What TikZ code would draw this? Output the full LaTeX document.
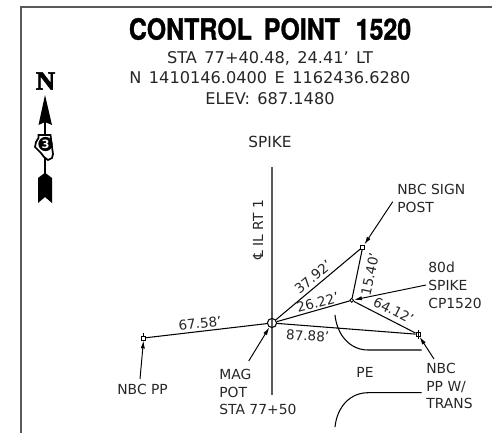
\documentclass[tikz,border=0pt]{standalone}
\usepackage{fontspec}
\setmainfont{DejaVu Sans}
\newfontfamily\titlefont[BoldFeatures={FakeBold=1.2}]{TeX Gyre Heros}
\newfontfamily\northfont[BoldFeatures={FakeBold=2.5}]{Liberation Serif}
\newcommand{\widewords}{\spaceskip=.46em\relax}
\usetikzlibrary{positioning,arrows.meta}
\tikzset{
  headtext/.style={font=\fontsize{9.2}{11}\selectfont,text=black!85},
  smalltext/.style={font=\fontsize{7.9}{10}\selectfont,text=black!85,align=left,inner sep=0pt},
  dimtext/.style={font=\fontsize{7.7}{9}\selectfont,text=black!85,inner sep=0pt},
  peg/.style={draw,shape=rectangle,minimum size=2.3pt,inner sep=0pt,line width=.5pt},
  leader/.style={line width=.55pt,-{Latex[length=4.5pt,width=2.4pt]}},
  tie/.style={line width=.6pt},
  frameline/.style={draw=black!65,line width=.9pt},
}
\begin{document}
\begin{tikzpicture}[x=0.02cm,y=-0.02cm]
\useasboundingbox (0,0) rectangle (492,433);
\draw[frameline] (21,433) -- (21,7) -- (492,7);

\node[font=\titlefont\bfseries\fontsize{16.6}{18}\selectfont,xscale=.855,transform shape] (Title) at (270,29) {CONTROL\hspace{.2em} POINT\hspace{.35em} 1520};
\node[headtext] (Sta) at (270,58) {\widewords STA 77+40.48, 24.41' LT};
\node[headtext] (Coord) at (270,78) {\widewords N 1410146.0400 E 1162436.6280};
\node[headtext] (Elev) at (270,99) {\widewords ELEV: 687.1480};
\node[headtext,font=\fontsize{8.7}{11}\selectfont] (Spike) at (270,142) {SPIKE};

\draw[draw=black!65,line width=.9pt] (272,167) -- (272,395);
\node[smalltext,rotate=90] (Rt) at (258,230) {℄ IL RT 1};

\node[draw,shape=circle,minimum size=5.2pt,inner sep=0pt,line width=.6pt] (Mag) at (272,323) {};
\node[peg] (PpA) at (143.7,338) {};
\node[peg] (Sign) at (362.7,247) {};
\node[draw,shape=circle,minimum size=2.2pt,inner sep=0pt,line width=.5pt] (Pt) at (351.7,300.3) {};
\node[peg] (PpB) at (418,334.3) {};

\draw[tie] (PpA) -- (Mag);
\draw[tie] (Mag) -- (Sign);
\draw[tie] (Mag) -- (Pt);
\draw[tie] (Mag) -- (PpB);
\draw[tie] (Sign) -- (Pt);
\draw[tie] (Pt) -- (PpB);
\draw[line width=.4pt] (143.7,333) -- (PpA.north);
\draw[line width=.4pt] (418,330) -- (418,339);

\node[dimtext,rotate=6] (DimA) at (200,323.5) {67.58'};
\node[dimtext,rotate=40] (DimB) at (313,277) {37.92'};
\node[dimtext,rotate=15] (DimC) at (317.7,302.5) {26.22'};
\node[dimtext,rotate=-3] (DimD) at (307.7,336) {87.88'};
\node[dimtext,rotate=78] (DimE) at (370,274) {15.40'};
\node[dimtext,rotate=-27] (DimF) at (393.5,310.5) {64.12'};

\node[smalltext,anchor=west] (LabelA) at (117,389) {NBC PP};
\node[smalltext,anchor=north west] (LabelB) at (219,369) {MAG\\POT\\STA 77+50};
\node[smalltext,anchor=north west] (LabelC) at (397,184) {NBC SIGN\\POST};
\node[smalltext,anchor=north west] (LabelD) at (428,262) {80d\\SPIKE\\CP1520};
\node[smalltext,anchor=north west] (LabelE) at (426,363) {NBC\\PP W/\\TRANS};
\node[smalltext] (Pe) at (365,372) {PE};

\coordinate (StartA) at (140,379);
\coordinate (StartB) at (248.7,361);
\coordinate (StartC) at (392.7,201.7);
\coordinate (StartD) at (426,285);
\coordinate (StartE) at (434,359);
\draw[leader] (StartA) -- (PpA);
\draw[leader] (StartB) -- (Mag);
\draw[leader] (StartC) -- (Sign);
\draw[leader] (StartD) -- (Pt);
\draw[leader] (StartE) -- (PpB);

\draw[tie] (335,315) .. controls (337,335) and (350,350) .. (368,350) -- (421.7,350);
\draw[tie] (335,427) .. controls (337,407) and (350,392.7) .. (368,392.7) -- (421.7,392.7);

\node[font=\northfont\bfseries\fontsize{15}{16}\selectfont,inner sep=0pt] (North) at (45.5,81) {N};
\fill (45,95) -- (52,125) -- (45,122) -- (38.5,125) -- cycle;
\fill (45,172.7) -- (52,178) -- (52,203) -- (45,197) -- (38,203) -- (38,178) -- cycle;
\draw[line width=.8pt] (45,122) -- (45,175);
\draw[fill=white,line width=1pt] (38.5,135) -- (50.5,135) -- (52,147) -- (53,154) -- (52,158) -- (48,160) -- (44,157) -- (41,153) -- (35,147) -- (36,142) -- (38.5,138) -- cycle;
\node[shape=circle,fill=black,text=white,font=\fontsize{6.5}{6.5}\bfseries\selectfont,inner sep=.5pt] (Route) at (45.5,144) {3};
\end{tikzpicture}
\end{document}
